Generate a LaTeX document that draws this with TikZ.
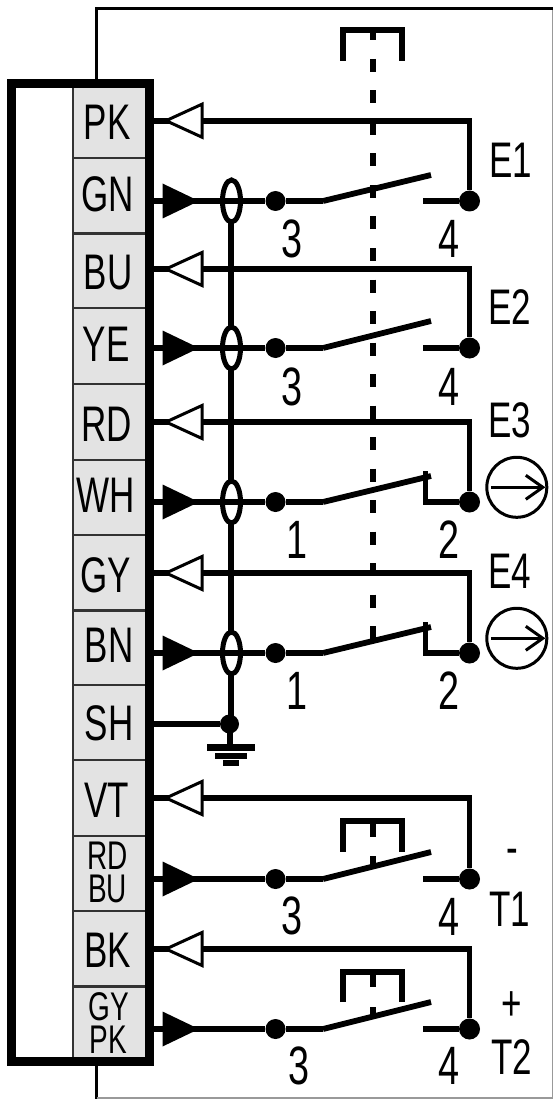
\documentclass[tikz,border=0pt]{standalone}
\usepackage{fontspec}
\setmainfont[FakeStretch=0.7]{Liberation Sans}
\usetikzlibrary{shapes.geometric,arrows.meta}
\definecolor{cellgray}{HTML}{E3E3E3}
\definecolor{sepgray}{HTML}{333333}
\tikzset{
  x=1pt,y=-1pt,
  wire/.style={line width=5.8pt,line join=miter,black},
  thinframe/.style={line width=3pt,black},
  cellbox/.style={fill=cellgray,draw=sepgray,line width=2.6pt},
  celltext/.style={inner sep=0pt,font=\fontsize{50}{50}\selectfont},
  smalltext/.style={inner sep=0pt,font=\fontsize{40}{40}\selectfont},
  numtext/.style={inner sep=0pt,font=\fontsize{54}{54}\selectfont},
  tagtext/.style={inner sep=0pt,font=\fontsize{50}{50}\selectfont},
  dotnode/.style={circle,fill=black,inner sep=0pt,minimum size=21pt},
  shieldloop/.style={ellipse,draw=black,fill=white,line width=5pt,inner sep=0pt,minimum width=18pt,minimum height=42pt},
  opentip/.style={fill=white,draw=black,line width=3pt,line join=miter},
  solidtip/.style={fill=black},
  swblade/.style={line width=5.8pt,line cap=butt,line join=miter,black},
  dashline/.style={line width=6pt,black,dash pattern=on 13pt off 18.5pt},
  bracketline/.style={line width=6pt,black,line join=miter},
  meterring/.style={circle,draw=black,line width=3pt,inner sep=0pt,minimum size=60pt},
  gbar/.style={fill=black}
}
\newcommand{\opentri}[1]{\path[opentip] (166,#1) -- (202,#1-16.5) -- (202,#1+16.5) -- cycle;}
\newcommand{\solidtri}[1]{\path[solidtip] (162.5,#1-17.5) -- (199,#1) -- (162.5,#1+17.5) -- cycle;}
\begin{document}
\begin{tikzpicture}
\useasboundingbox (0,0) rectangle (553,1099);
% housing frame
\draw[thinframe] (96.5,80) -- (96.5,8.5) -- (553,8.5);
\draw[thinframe] (96.5,1066) -- (96.5,1099);
\draw[line width=1.5pt,black!40] (96.5,1098.2) -- (552.3,1098.2) -- (552.3,10);
% cells
\foreach \a/\b in {86/158,158/233.5,233.5/308,308/384,384/460,460/535,535/610.7,610.7/685,685/760,760/836,836/911,911/986.7,986.7/1059}
  \path[cellbox] (73,\a) rectangle (147,\b);
% connector block
\draw[line width=9pt,black,line join=miter] (11.5,83.5) rectangle (149.5,1061.5);
% cell labels
\node[celltext] (tPK) at (107,122.7) {PK};
\node[celltext] (tGN) at (108,194) {GN};
\node[celltext] (tBU) at (108,273) {BU};
\node[celltext] (tYE) at (106,344) {YE};
\node[celltext] (tRD) at (106.5,424) {RD};
\node[celltext] (tWH) at (106,495.7) {WH};
\node[celltext] (tGY) at (106,575) {GY};
\node[celltext] (tBN) at (109,645.7) {BN};
\node[celltext] (tSH) at (109,723) {SH};
\node[celltext] (tVT) at (106.5,800) {VT};
\node[smalltext] (tRB1) at (107.5,856) {RD};
\node[smalltext] (tRB2) at (107.5,888.5) {BU};
\node[celltext] (tBK) at (107.5,950.7) {BK};
\node[smalltext] (tGP1) at (108.6,1006.5) {GY};
\node[smalltext] (tGP2) at (108.6,1040) {PK};
% dashed linkage and brackets
\draw[line width=6pt] (372.5,30) -- (372.5,40);
\draw[dashline] (372.5,59) -- (372.5,640);
\draw[bracketline] (343,61) -- (343,30) -- (401.5,30) -- (401.5,61);
\draw[bracketline] (343,851.7) -- (343,821) -- (401.5,821) -- (401.5,851.7);
\draw[line width=6pt] (372.5,821) -- (372.5,836.7) (372.5,856) -- (372.5,865);
\draw[bracketline] (343,1002) -- (343,972) -- (401.5,972) -- (401.5,1002);
\draw[line width=6pt] (372.5,972) -- (372.5,987) (372.5,1007) -- (372.5,1016);
% shield
\node[dotnode,minimum size=19pt] (gnd) at (229.5,724) {};
\coordinate (shieldtop) at (231,201);
\draw[line width=6pt] (shieldtop) -- (231,724);
\draw[line width=6pt] (229.5,724) -- (229.5,745);
\path[gbar] (207,744.3) rectangle (254.7,750.7);
\path[gbar] (215,752.7) rectangle (247,758.7);
\path[gbar] (223,760) rectangle (239,766);
\foreach \n/\y in {a/201,b/348,c/502,d/653}
  \node[shieldloop] (sh\n) at (231.5,\y) {};
% output wires
\foreach \n/\y in {GN/201,YE/348,WH/502,BN/653,RB/879,GP/1029}{
  \coordinate (in\n) at (154,\y);
  \node[dotnode,minimum size=20pt] (a\n) at (275.5,\y) {};
  \coordinate (k\n) at (323,\y);
  \draw[swblade] (in\n) -- (a\n) -- (k\n);
  \solidtri{\y}
}
% moving blades
\foreach \n/\y/\dy in {GN/201/-26,YE/348/-27,RB/879/-27,GP/1029/-27}
  \draw[swblade] (k\n) -- ++(108,\dy);
\foreach \n/\y in {WH/502,BN/653}
  \draw[swblade] (k\n) -- ++(108,-26);
% return wires
\foreach \n/\t/\y/\ty in {GN/PK/201/120.7,YE/BU/348/269,WH/RD/502/422,BN/GY/653/573,RB/VT/879/798,GP/BK/1029/949}{
  \node[dotnode] (b\n) at (469.5,\y) {};
  \coordinate (p\n) at (154,\ty);
  \draw[wire] (b\n) |- (p\n);
  \opentri{\ty}
}
% fixed contacts NO
\foreach \n/\y in {GN/201,YE/348,RB/879,GP/1029}{
  \coordinate (f\n) at (423,\y);
  \draw[swblade] (f\n) -- (b\n);
}
% fixed contacts NC
\foreach \n/\y in {WH/502,BN/653}{
  \coordinate (f\n) at (425.5,\y-31);
  \draw[swblade] (f\n) |- (b\n);
}
% SH wire
\coordinate (inSH) at (154,724);
\draw[wire] (inSH) -- (gnd);
% terminal numbers
\node[numtext] (n1) at (291.7,239) {3};
\node[numtext] (n2) at (448.7,239.3) {4};
\node[numtext] (n3) at (291.7,387) {3};
\node[numtext] (n4) at (448.7,387) {4};
\node[numtext] (n5) at (297.4,540) {1};
\node[numtext] (n6) at (448.7,540) {2};
\node[numtext] (n7) at (297.4,691) {1};
\node[numtext] (n8) at (448.7,691) {2};
\node[numtext] (n9) at (292,916) {3};
\node[numtext] (n10) at (449,916.7) {4};
\node[numtext] (n11) at (298.8,1066) {3};
\node[numtext] (n12) at (449,1066) {4};
% tags
\node[tagtext] (e1) at (510.8,160) {E1};
\node[tagtext] (e2) at (510,306.7) {E2};
\node[tagtext] (e3) at (510,420.7) {E3};
\node[tagtext] (e4) at (510,571.7) {E4};
\node[tagtext] (minus) at (512,856.7) {-};
\node[tagtext] (t1) at (510,909) {T1};
\node[tagtext] (plus) at (512,1005.7) {+};
\node[tagtext] (t2) at (511.5,1056.7) {T2};
% meters
\node[meterring] (m1) at (516.8,487.3) {};
\node[meterring] (m2) at (516.8,638.3) {};
\foreach \m in {m1,m2}{
  \coordinate (\m l) at ([xshift=-26pt]\m.center);
  \coordinate (\m r) at ([xshift=26pt]\m.center);
  \draw[line width=3pt] (\m l) -- (\m r);
  \draw[line width=3pt,line join=miter] ([xshift=-17pt,yshift=12pt]\m r) -- (\m r) -- ([xshift=-17pt,yshift=-12pt]\m r);
}
\end{tikzpicture}
\end{document}
